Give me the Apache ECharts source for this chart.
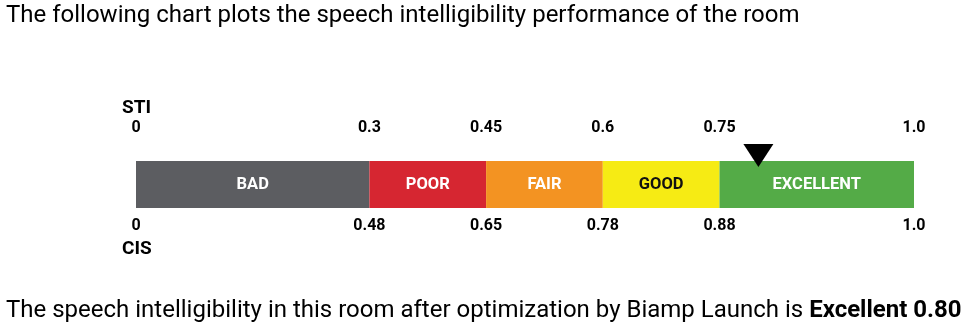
<!DOCTYPE html>
<html><head><meta charset="utf-8">
<script src="https://cdn.jsdelivr.net/npm/echarts@6/dist/echarts.min.js"></script>
<style>html,body{margin:0;padding:0;background:#fff}#c{width:970px;height:330px}</style>
</head><body><div id="c"></div>
<script>
// Data
const categories = ['BAD', 'POOR', 'FAIR', 'GOOD', 'EXCELLENT'];
const segmentWidths = [0.3, 0.15, 0.15, 0.15, 0.25];
const segmentColors = ['#5c5d61', '#d62631', '#f39322', '#f6eb14', '#54ab47'];
const segmentLabelColors = ['#ffffff', '#ffffff', '#ffffff', '#111111', '#ffffff'];
const tickPositions = [0, 0.3, 0.45, 0.6, 0.75, 1.0];
const stiLabels = ['0', '0.3', '0.45', '0.6', '0.75', '1.0'];
const cisLabels = ['0', '0.48', '0.65', '0.78', '0.88', '1.0'];
const resultValue = 0.80;
const resultRating = 'Excellent';

const chart = echarts.init(document.getElementById('c'), null, {renderer: 'canvas'});
const FONT = 'Roboto';
function labelFor(list) {
  return function (v) {
    for (let i = 0; i < tickPositions.length; i++) {
      if (Math.abs(tickPositions[i] - v) < 1e-6) return list[i];
    }
    return '';
  };
}
const series = categories.map((name, i) => ({
  type: 'bar', name: name, stack: 'sti', barWidth: 47,
  xAxisIndex: 0, yAxisIndex: 0,
  itemStyle: {color: segmentColors[i]},
  label: {show: true, position: 'inside', formatter: name, color: segmentLabelColors[i],
    fontFamily: FONT, fontWeight: 'bold', fontSize: 16.5},
  data: [segmentWidths[i]],
  silent: true
}));
series.push({
  type: 'scatter', xAxisIndex: 0, yAxisIndex: 0,
  symbol: 'triangle', symbolRotate: 180, symbolSize: [30, 23], symbolOffset: [0, -29],
  itemStyle: {color: '#000000', opacity: 1}, z: 10,
  data: [[resultValue, 'STI']]
});
chart.setOption({
  animation: false,
  textStyle: {fontFamily: FONT},
  grid: {left: 136, width: 778, top: 161, height: 47},
  xAxis: [
    {type: 'value', min: 0, max: 1, position: 'top',
     axisLine: {show: false}, axisTick: {show: false}, splitLine: {show: false},
     axisLabel: {customValues: tickPositions, formatter: labelFor(stiLabels), margin: 25,
       fontFamily: FONT, fontWeight: 'bold', fontSize: 16, color: '#000'}},
    {type: 'value', min: 0, max: 1, position: 'bottom',
     axisLine: {show: false}, axisTick: {show: false}, splitLine: {show: false},
     axisLabel: {customValues: tickPositions, formatter: labelFor(cisLabels), margin: 10,
       fontFamily: FONT, fontWeight: 'bold', fontSize: 16, color: '#000'}}
  ],
  yAxis: [{type: 'category', data: ['STI'], show: false}],
  title: [
    {text: 'The following chart plots the speech intelligibility performance of the room',
     left: 6, top: 4, padding: 0, textStyle: {fontFamily: FONT, fontWeight: 'normal', fontSize: 24, color: '#000'}},
    {text: 'STI', left: 122, top: 99, padding: 0, textStyle: {fontFamily: FONT, fontWeight: 'bold', fontSize: 19, color: '#000'}},
    {text: 'CIS', left: 122, top: 240, padding: 0, textStyle: {fontFamily: FONT, fontWeight: 'bold', fontSize: 19, color: '#000'}},
    {text: '{n|The speech intelligibility in this room after optimization by Biamp Launch is }{b|' + resultRating + ' ' + resultValue.toFixed(2) + '}',
     left: 6, top: 299, padding: 0,
     textStyle: {rich: {
       n: {fontFamily: FONT, fontWeight: 'normal', fontSize: 24, color: '#000'},
       b: {fontFamily: FONT, fontWeight: 'bold', fontSize: 24, color: '#000'}}}}
  ],
  series: series
});
</script></body></html>
